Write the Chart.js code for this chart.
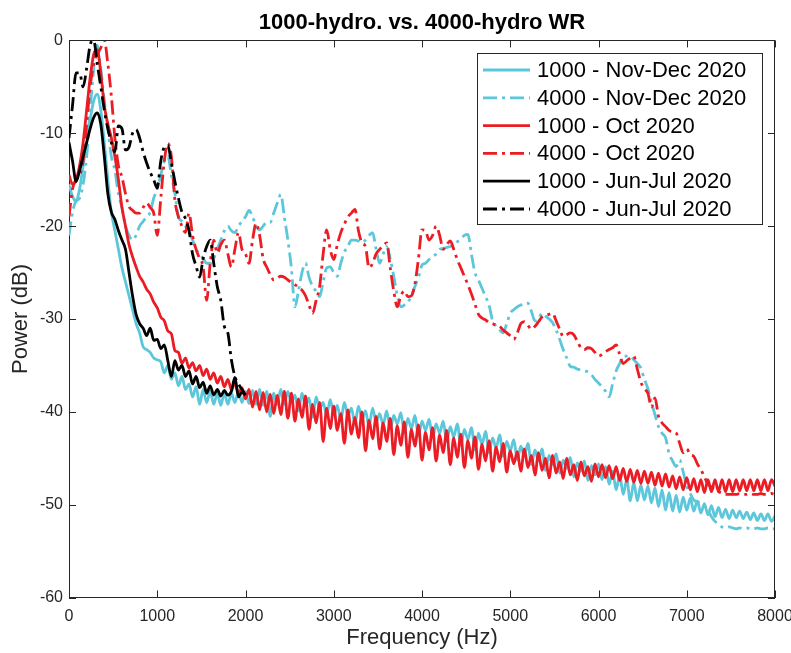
<!DOCTYPE html>
<html><head><meta charset="utf-8">
<script src="https://cdn.jsdelivr.net/npm/chart.js@4.4.1/dist/chart.umd.min.js"></script>
<style>html,body{margin:0;padding:0;background:#fff;}#wrap{width:791px;height:653px;position:relative;}</style>
</head><body><div id="wrap"><canvas id="c" width="791" height="653"></canvas></div>
<script>
// Frequency bins (Hz)
const freq = [0,40,80,120,160,200,240,280,320,360,400,440,480,520,560,600,640,680,720,760,800,840,880,920,960,1000,
1040,1080,1120,1160,1200,1240,1280,1320,1360,1400,1440,1480,1520,1560,1600,1640,1680,1720,1760,1800,1840,1880,1920,1960,2000,
2040,2080,2120,2160,2200,2240,2280,2320,2360,2400,2440,2480,2520,2560,2600,2640,2680,2720,2760,2800,2840,2880,2920,2960,3000,
3040,3080,3120,3160,3200,3240,3280,3320,3360,3400,3440,3480,3520,3560,3600,3640,3680,3720,3760,3800,3840,3880,3920,3960,4000,
4040,4080,4120,4160,4200,4240,4280,4320,4360,4400,4440,4480,4520,4560,4600,4640,4680,4720,4760,4800,4840,4880,4920,4960,5000,
5040,5080,5120,5160,5200,5240,5280,5320,5360,5400,5440,5480,5520,5560,5600,5640,5680,5720,5760,5800,5840,5880,5920,5960,6000,
6040,6080,6120,6160,6200,6240,6280,6320,6360,6400,6440,6480,6520,6560,6600,6640,6680,6720,6760,6800,6840,6880,6920,6960,7000,
7040,7080,7120,7160,7200,7240,7280,7320,7360,7400,7440,7480,7520,7560,7600,7640,7680,7720,7760,7800,7840,7880,7920,7960,8000];

const seriesLabels = ['1000 - Nov-Dec 2020','4000 - Nov-Dec 2020','1000 - Oct 2020','4000 - Oct 2020','1000 - Jun-Jul 2020','4000 - Jun-Jul 2020'];

// Power (dB) per series
const nov1000 = [-15.5,-16.8,-17.3,-16,-13.5,-11,-8.5,-6.5,-5.8,-7.5,-11,-15,-18.5,-20.5,-22.5,-24.5,-26,-27.5,-29,-30.5,-31.5,-33,-33.3,-33.6,-34.2,-34.4,
-34.6,-35.8,-35,-36.5,-35.8,-37.2,-36.2,-37.6,-37,-38.4,-37.3,-39.2,-37.6,-39,-37.8,-39.2,-38,-39.3,-38,-39.2,-38,-39,-37.8,-39,-37.8,
-39.1,-37.7,-39.2,-37.6,-39.3,-37.8,-40.5,-38,-39.2,-37.6,
-39.2,-37.8,-39.0,-38.2,-39.9,-38.0,-39.4,-38.5,-40.6,-38.4,-39.7,-39.0,-40.4,-38.7,
-40.3,-39.3,-40.9,-39.0,-40.4,-39.6,-41.3,-39.4,-40.8,-39.9,-41.6,-39.6,-41.1,-40.2,
-41.4,-39.9,-41.9,-40.4,-41.3,-40.1,-42.3,-40.7,-41.8,-40.4,-42.6,-41.0,-42.0,-40.8,
-42.8,-41.3,-42.3,-41.0,-43.2,-41.6,-42.7,-41.3,-43.6,-41.9,-43.0,-41.7,-44.1,-42.3,-43.5,-42.1,-44.4,-42.8,-43.9,-42.5,-44.8,-43.2,-44.2,
-43.0,-45.2,-43.7,-44.8,-43.4,-45.7,-44.1,-45.3,-44.0,-46.3,-44.7,-45.7,-44.5,-46.6,-45.2,-46.1,-44.9,-47.0,-45.5,-46.4,-45.3,-47.4,-45.8,-46.8,-45.6,
-47.3,-45.9,-47.8,-46.4,-48.4,-46.8,-48.9,-47.3,-49.6,-47.6,-49.6,-47.9,
-49.5,-48.0,-49.8,-48.2,-50.2,-48.4,-50.6,-48.7,-50.7,-49.0,-50.8,-49.2,-50.6,
-49.3,-50.7,-49.6,-50.9,-49.9,-51.1,-50.1,-51.3,-50.3,-51.4,-50.5,-51.5,-50.6,
-51.4,-50.7,-51.5,-50.8,-51.6,-50.9,-51.7,-51.0,-51.7,-51.0,-51.8,-51.2];

const nov4000 = [-21,-18.5,-17.3,-17,-15.5,-12.5,-7.5,-3,-0.5,-3,-6.5,-9.5,-12.5,-14,-16.5,-18,-20,-21,-21.5,-21,-20,-19.5,-19,-18.5,-17,-16,
-14.5,-13,-12.5,-14.5,-16.5,-19,-19.5,-20,-20.5,-21.5,-22.5,-23,-23.5,-24,-24,-23.5,-22.5,-21.5,-20.5,-20,-20.5,-20.7,-20,-19.5,-19,
-18.3,-19,-20,-20.4,-20,-19.6,-19.6,-18.6,-17.5,-16.6,
-19,-21.5,-24.5,-28.7,-27,-25,-24,-25.5,-26.5,-27,-27.6,-26,-24.5,-24.4,
-25,-25.4,-24,-22.8,-22.2,-21.5,-21.5,-21.6,-21.8,-21.5,-21,-20.7,-22.5,-24,
-23,-22.2,-23.5,-25.4,-27.5,-28.7,-28.5,-28.2,-27.5,-26.5,-25.5,-24.2,-24,-23.6,
-23.3,-23,-22.5,-22.4,-22.3,-22.2,-22,-21.7,-21.4,-21,-20.9,-23,-25,-25.8,-26.7,-27.6,-28.5,-30.2,-30.8,-31.2,-31.5,-30.5,-29.4,
-29,-28.7,-28.5,-28.3,-28.3,-29.2,-30.2,-30,-29.4,-29.7,-30,-30.4,-31.2,-32.2,-33.3,-34.2,-35.1,-35.2,-35.4,-35.5,-35.6,-35.7,-36,-36.5,-36.9,
-37.3,-37.8,-38.4,-37,-35.6,-34.8,-34,-34,-34,-34.4,-34.8,-35.3,
-36.5,-37.5,-39,-40.3,-41.6,-42.3,-42.8,-44.5,-45.3,-45.9,-45.2,-46.5,-48,
-48.8,-49.5,-49.7,-49.8,-50.2,-50.6,-51.3,-51.8,-52.1,-52.4,-52.5,-52.4,-52.5,
-52.6,-52.5,-52.6,-52.5,-52.6,-52.6,-52.5,-52.6,-52.6,-52.5,-52.6,-52.6];

const oct1000 = [-14.5,-15.5,-15,-13.5,-11,-7.5,-4,-1.5,-1,-3.5,-7,-9,-10.5,-12.5,-15,-18,-20,-22,-23.3,-24.4,-25.4,-26,-26.8,-27.3,-28.2,-28.8,
-29.8,-30.2,-31.3,-31.6,-33.4,-33.6,-34.8,-34.2,-35.3,-34.7,-35.6,-35.0,-36.1,-35.4,-36.5,-35.8,-36.9,-36.2,-37.3,-36.5,-37.6,-36.9,-38,-37.4,-38.6,
-37.6,-39.5,-37.8,-39.8,-37.9,-40.0,-38.1,-40.2,-38.2,-40.3,
-37.8,-40.7,-38.0,-41.0,-38.6,-40.6,-38.3,-41.9,-39.2,-41.2,-39.0,-43.2,-39.6,-41.8,
-39.4,-42.0,-40.2,-43.4,-39.8,-42.4,-40.6,-42.8,-40.0,-44.2,-40.9,-42.9,-40.5,-44.0,
-41.2,-43.2,-40.7,-44.6,-41.5,-43.6,-41.1,-44.9,-41.9,-43.7,-41.4,-45.2,-42.2,-44.1,
-41.7,-45.3,-42.5,-44.4,-42.0,-45.7,-42.8,-44.9,-42.4,-46.0,-43.1,-45.0,-42.7,-46.2,-43.5,-45.3,-43.1,-46.4,-43.8,-45.4,-43.4,-46.5,-44.2,
-45.6,-44.3,-46.4,-44.0,-46.0,-44.7,-46.8,-44.4,-46.3,-45.0,-47.1,-44.7,-46.6,-45.4,-47.2,-45.0,-46.8,-45.7,-47.4,-45.4,-46.9,-45.9,-47.5,-45.6,-47.0,
-45.7,-47.1,-45.8,-47.2,-45.9,-47.4,-46.1,-47.5,-46.2,-47.6,-46.3,-47.7,
-46.4,-47.7,-46.5,-47.9,-46.6,-48.0,-46.7,-48.1,-46.9,-48.3,-47.0,-48.4,-47.1,
-48.4,-47.2,-48.6,-47.3,-48.7,-47.3,-48.6,-47.3,-48.6,-47.3,-48.6,-47.3,-48.6,
-47.3,-48.5,-47.3,-48.5,-47.3,-48.5,-47.3,-48.5,-47.3,-48.5,-47.3,-48.0];

const oct4000 = [-19,-16,-15,-14.5,-13,-9,-5,-2.5,-1.5,-0.8,0,-2.5,-6,-10.5,-13.5,-14.7,-16.5,-17.9,-18.3,-18.6,-18.6,-18,-17.5,-18,-18.6,-21,
-17,-13,-11.1,-12.5,-17.2,-19,-20,-20.7,-18.6,-21,-22.5,-23.5,-24.4,-28,-24,-21.5,-22.9,-22,-21.5,-23,-24.4,-22.5,-20.7,-22.5,-23,
-24,-21.5,-19.7,-21,-23.5,-24.4,-25.2,-25.8,-25.6,-25.4,
-25.5,-25.8,-26.1,-26.3,-26.6,-26.9,-27.5,-28.5,-29.4,-28,-26.5,-23,-20.4,-22.5,
-23.6,-22,-20.7,-19.8,-19,-18.6,-18.2,-20.5,-21.8,-22.2,-24.5,-24,-23,-22.5,
-22.1,-21.8,-24.5,-27,-28.7,-27.5,-27,-27.6,-27.5,-26.2,-23.5,-20.4,-20.5,-21.5,
-21,-20,-21,-22.5,-22,-21.6,-22.5,-23.6,-24.5,-25.4,-26.3,-27.3,-28.4,-29.5,-29.9,-30.1,-30.4,-30.5,-30.7,-30.8,-31.2,-31.5,-31.8,
-32.2,-31.5,-30.5,-30.3,-30.7,-31.1,-30.8,-30.3,-29.8,-29.6,-29.5,-29.4,-30.2,-31.1,-31.9,-31.7,-31.5,-31.7,-32.4,-33.1,-33.3,-33.1,-33.2,-33.6,-34,
-33.8,-33.5,-33.3,-33.1,-32.8,-33.8,-34.8,-34.5,-34.2,-34,-35.4,-36.8,
-37.5,-38,-39.5,-38.5,-40.5,-41.2,-41.6,-42,-42.2,-42.3,-43.4,-44.4,-44,
-44.6,-44.8,-45.6,-46.2,-47,-47.8,-48.1,-48.4,-48.6,-48.8,-48.9,-48.9,-48.9,
-48.9,-48.8,-48.9,-48.9,-48.8,-48.9,-48.9,-48.8,-48.9,-48.9,-48.8,-48.9];

const jun1000 = [-11,-13,-15.2,-14,-12.5,-11,-9.5,-8.3,-7.8,-9,-12.5,-16.5,-18.5,-19.3,-20.5,-21.5,-22.5,-25,-27.5,-29.5,-30.5,-31,-31.8,-31,-32.3,-32.2,
-33.2,-32.8,-34.5,-36.2,-34.5,-35.5,-35,-36.2,-35.6,-37,-36.2,-37.4,-36.8,-38,-37.2,-38.2,-37.6,-38.3,-37.7,-38.2,-37.8,-36.3,-38.4,-37.9,-38.2];

const jun4000 = [-10.5,-7,-3.5,-3.5,-5,-3,-0.5,0,-2.5,-5,-7.5,-9.5,-11,-12,-9.2,-9.5,-11.8,-11.5,-10,-9.6,-10.5,-12,-13.2,-14.2,-15,-15.9,
-13,-11.5,-11.3,-13.2,-15.2,-17,-18.5,-19.2,-20.5,-23,-24.3,-25.5,-23.5,-22.2,-21.5,-24,-26.5,-28,-30.8,-31.5,-34.4,-36.2,-37,-37.6,-38.2];

const xTicks = [0,1000,2000,3000,4000,5000,6000,7000,8000];
const yTicks = [-60,-50,-40,-30,-20,-10,0];

const CYAN = '#5cc6da', RED = '#ec1c24', BLACK = '#000000';
const DASHDOT = [14,5,3,5];
const seriesValues = [nov1000, nov4000, oct1000, oct4000, jun1000, jun4000];
const seriesColors = [CYAN, CYAN, RED, RED, BLACK, BLACK];
const seriesDash = [[], DASHDOT, [], DASHDOT, [], DASHDOT];

const datasets = seriesValues.map((vals, i) => ({
  label: seriesLabels[i],
  data: vals.map((v, k) => ({x: freq[k], y: v})),
  borderColor: seriesColors[i],
  backgroundColor: seriesColors[i],
  borderWidth: 2.8,
  borderDash: seriesDash[i],
  borderJoinStyle: 'round',
  pointRadius: 0,
  fill: false,
  cubicInterpolationMode: 'monotone',
  order: 5 - i
}));

const FONT = "'Liberation Sans', Arial, Helvetica, sans-serif";
const AXC = '#262626';

const framePlugin = {
  id: 'frame',
  afterDraw(chart) {
    const ctx = chart.ctx, ca = chart.chartArea;
    const xs = chart.scales.x, ys = chart.scales.y;
    ctx.save();
    ctx.strokeStyle = AXC; ctx.lineWidth = 1;
    ctx.beginPath();
    ctx.moveTo(ca.left, Math.round(ca.top) + 0.5); ctx.lineTo(ca.right, Math.round(ca.top) + 0.5);
    ctx.moveTo(Math.round(ca.right) - 0.5, ca.top); ctx.lineTo(Math.round(ca.right) - 0.5, ca.bottom);
    xTicks.forEach(t => {
      const px = Math.round(xs.getPixelForValue(t)) + 0.5;
      ctx.moveTo(px, ca.bottom); ctx.lineTo(px, ca.bottom - 7);
      ctx.moveTo(px, ca.top); ctx.lineTo(px, ca.top + 7);
    });
    yTicks.forEach(t => {
      const py = Math.round(ys.getPixelForValue(t)) + 0.5;
      ctx.moveTo(ca.left, py); ctx.lineTo(ca.left + 7, py);
      ctx.moveTo(ca.right, py); ctx.lineTo(ca.right - 7, py);
    });
    ctx.stroke();
    // legend box
    const lx = 477.5, ly = 53.5, lw = 285, lh = 171;
    ctx.fillStyle = '#ffffff';
    ctx.fillRect(lx, ly, lw, lh);
    ctx.strokeStyle = AXC; ctx.lineWidth = 1; ctx.setLineDash([]);
    ctx.strokeRect(lx, ly, lw, lh);
    chart.data.datasets.forEach((ds, i) => {
      const cy = 70 + i * 27.8;
      ctx.beginPath();
      ctx.strokeStyle = ds.borderColor; ctx.lineWidth = 2.8;
      ctx.setLineDash(ds.borderDash || []);
      ctx.moveTo(483, cy); ctx.lineTo(530, cy);
      ctx.stroke();
      ctx.setLineDash([]);
      ctx.fillStyle = '#000';
      ctx.font = '22px ' + FONT;
      ctx.textBaseline = 'middle'; ctx.textAlign = 'left';
      ctx.fillText(ds.label, 537, cy + 1);
    });
    ctx.restore();
  }
};

new Chart(document.getElementById('c'), {
  type: 'line',
  data: { datasets },
  options: {
    responsive: false, animation: false, devicePixelRatio: 1,
    layout: { padding: { left: 0, right: 16, top: 0, bottom: 0 } },
    plugins: {
      legend: { display: false },
      tooltip: { enabled: false },
      title: { display: true, text: '1000-hydro. vs. 4000-hydro WR', fullSize: false, color: '#000',
        font: { family: FONT, size: 22, weight: 'bold', lineHeight: 1.2 }, padding: { top: 10, bottom: 4 } }
    },
    scales: {
      x: {
        type: 'linear', min: 0, max: 8000,
        afterBuildTicks(s) { s.ticks = xTicks.map(v => ({value: v})); },
        ticks: { color: AXC, font: { family: FONT, size: 16 }, padding: 9, maxRotation: 0, autoSkip: false, callback: v => String(v) },
        grid: { display: false, drawTicks: false },
        border: { display: true, color: AXC, width: 1 },
        title: { display: true, text: 'Frequency (Hz)', color: AXC, font: { family: FONT, size: 22 }, padding: { top: 0, bottom: 2 } },
        afterFit(s) { s.height = 55.5; s.paddingLeft = 0; s.paddingRight = 0; }
      },
      y: {
        type: 'linear', min: -60, max: 0,
        afterBuildTicks(s) { s.ticks = yTicks.map(v => ({value: v})); },
        ticks: { color: AXC, font: { family: FONT, size: 16 }, padding: 6, callback: v => String(v) },
        grid: { display: false, drawTicks: false },
        border: { display: true, color: AXC, width: 1 },
        title: { display: true, text: 'Power (dB)', color: AXC, font: { family: FONT, size: 22 }, padding: { top: 8, bottom: 0 } },
        afterFit(s) { s.width = 69; s.paddingTop = 0; s.paddingBottom = 0; }
      }
    }
  },
  plugins: [framePlugin]
});
</script></body></html>
